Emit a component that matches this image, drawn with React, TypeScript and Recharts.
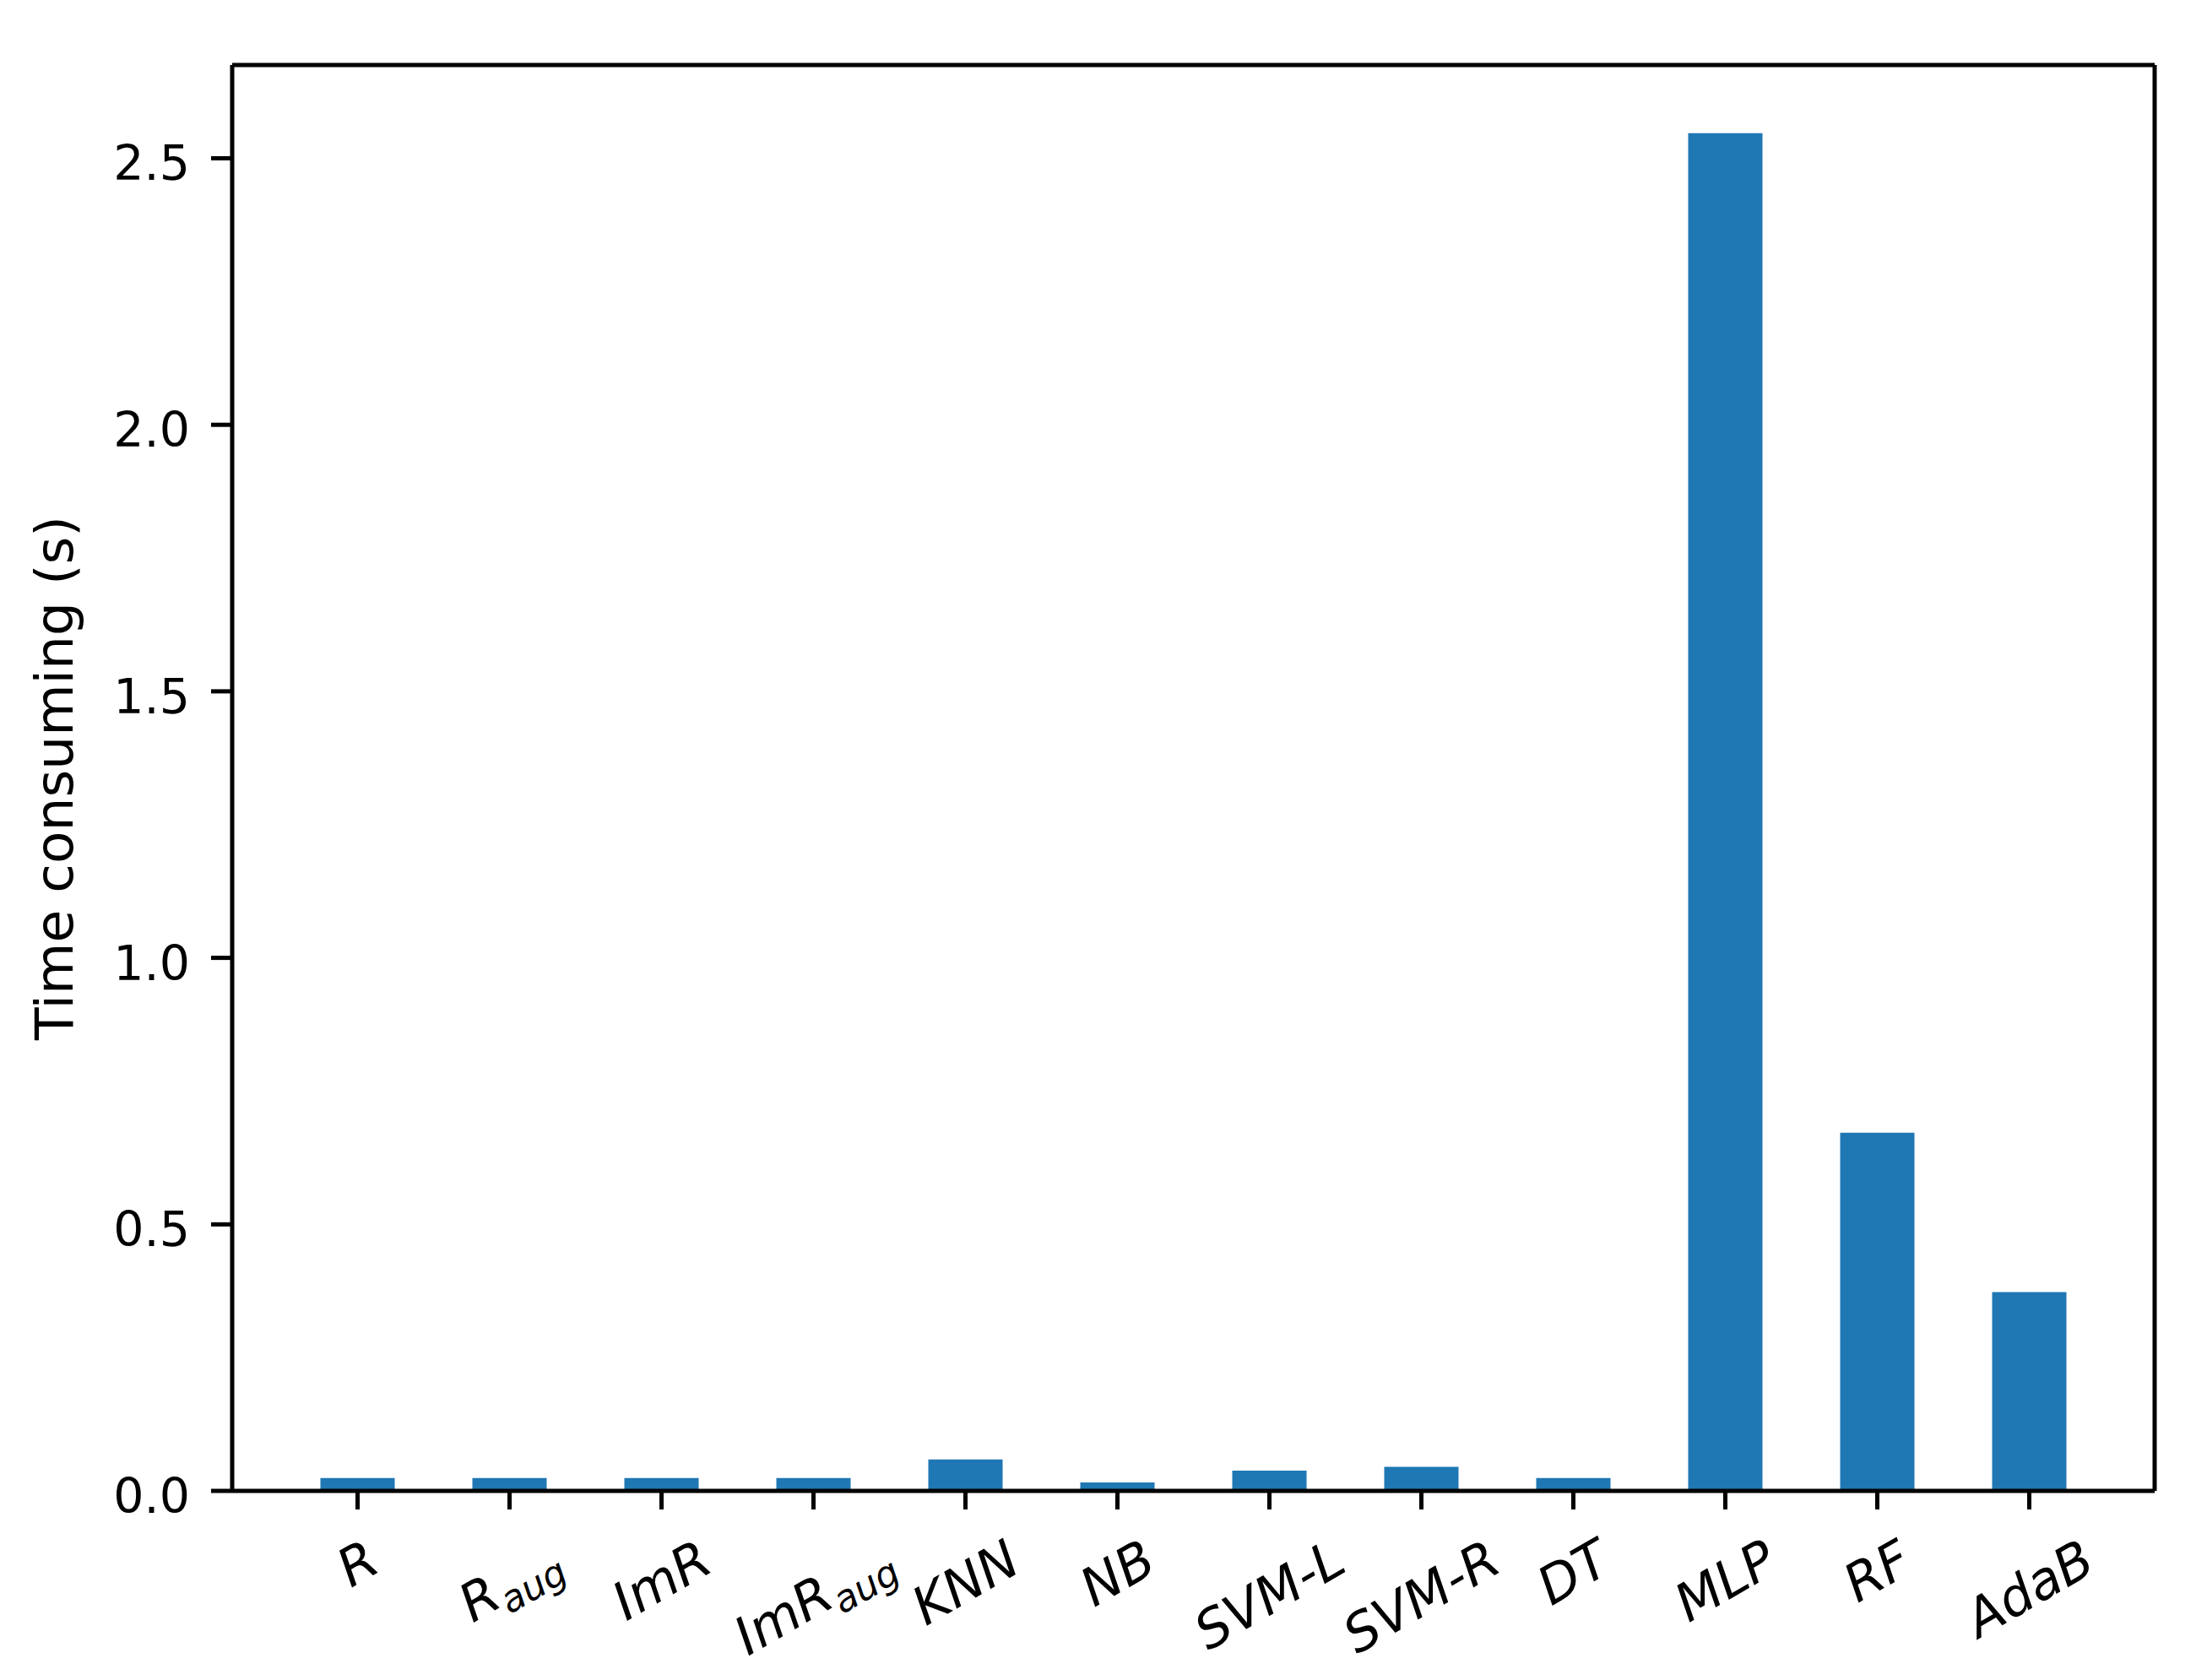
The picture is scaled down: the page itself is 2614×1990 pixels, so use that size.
import React from 'react';
import { BarChart, Bar, XAxis, YAxis, Label } from 'recharts';

// ---- data ----
const categories = ['R', 'R_aug', 'ImR', 'ImR_aug', 'KNN', 'NB', 'SVM-L', 'SVM-R', 'DT', 'MLP', 'RF', 'AdaB'];
const labelMain = ['R', 'R', 'ImR', 'ImR', 'KNN', 'NB', 'SVM-L', 'SVM-R', 'DT', 'MLP', 'RF', 'AdaB'];
const labelSub = ['', 'aug', '', 'aug', '', '', '', '', '', '', '', ''];
const timeValues = [0.024, 0.024, 0.024, 0.024, 0.059, 0.016, 0.038, 0.045, 0.024, 2.547, 0.672, 0.373];
const yTicks = [0, 0.5, 1.0, 1.5, 2.0, 2.5];
const yMax = 2.675;
const yLabel = 'Time consuming (s)';

const chartData = categories.map((name, i) => ({ name, time: timeValues[i] }));

// ---- style ----
const FONT = '"DejaVu Sans", sans-serif';
const FS = 57;
const LFS = 63;
const XFS = 62;
const SUBFS = 44;
const ANGLE = 30;
const AXIS_W = 5;
const BLUE = '#1f77b4';

let ctx: CanvasRenderingContext2D | null = null;
function measure(text: string, size: number): number {
  if (!ctx) ctx = document.createElement('canvas').getContext('2d');
  if (!ctx) return text.length * size * 0.6;
  ctx.font = `italic ${size}px "DejaVu Sans"`;
  return ctx.measureText(text).width;
}

function XTick(props: any) {
  const { x, y, payload } = props;
  const idx = categories.indexOf(payload.value);
  const main = labelMain[idx] ?? String(payload.value);
  const sub = labelSub[idx] ?? '';
  const w = measure(main, XFS) + (sub ? measure(sub, SUBFS) : 0);
  const h = 1.164 * XFS;
  const rad = (ANGLE * Math.PI) / 180;
  const top = y + 22;
  const cy = top + (w * Math.sin(rad) + h * Math.cos(rad)) / 2;
  const cx = x;
  return (
    <text
      x={cx}
      y={cy + 0.346 * XFS}
      textAnchor="middle"
      transform={`rotate(${-ANGLE}, ${cx}, ${cy})`}
      fontSize={XFS}
      fontStyle="italic"
      fontFamily={FONT}
      fill="#000"
    >
      {main}
      {sub ? (
        <tspan fontSize={SUBFS} dy={13}>
          {sub}
        </tspan>
      ) : null}
    </text>
  );
}

function YTick(props: any) {
  const { x, y, payload } = props;
  return (
    <text x={x} y={y + 26} textAnchor="end" fontSize={FS} fontFamily={FONT} fill="#000">
      {Number(payload.value).toFixed(1)}
    </text>
  );
}

function YLabelContent(props: any) {
  const vb = props.viewBox || { x: 0, y: 77, width: 275, height: 1689 };
  const cx = 64;
  const cy = vb.y + vb.height / 2;
  return (
    <text
      x={cx}
      y={cy + 0.346 * LFS}
      textAnchor="middle"
      transform={`rotate(-90, ${cx}, ${cy})`}
      fontSize={LFS}
      fontFamily={FONT}
      fill="#000"
    >
      {yLabel}
    </text>
  );
}

export default function App() {
  return (
    <div style={{ position: 'absolute', left: 0, top: 0, width: 2614, height: 1990, background: '#fff' }}>
      <BarChart
        width={2614}
        height={1990}
        data={chartData}
        margin={{ top: 76, right: 61, bottom: 0, left: 0 }}
      >
        <Bar dataKey="time" fill={BLUE} barSize={88} isAnimationActive={false} />
        <XAxis
          dataKey="name"
          interval={0}
          height={224}
          tickSize={22}
          tickMargin={0}
          padding={{ left: 58.5, right: 58.5 }}
          axisLine={{ stroke: '#000', strokeWidth: AXIS_W }}
          tickLine={{ stroke: '#000', strokeWidth: AXIS_W }}
          tick={<XTick />}
        />
        <XAxis
          xAxisId="top"
          dataKey="name"
          orientation="top"
          height={1}
          tick={false}
          tickLine={false}
          axisLine={{ stroke: '#000', strokeWidth: AXIS_W }}
        />
        <YAxis
          width={275}
          domain={[0, yMax]}
          ticks={yTicks}
          allowDataOverflow
          tickSize={25}
          tickMargin={25}
          axisLine={{ stroke: '#000', strokeWidth: AXIS_W }}
          tickLine={{ stroke: '#000', strokeWidth: AXIS_W }}
          tick={<YTick />}
        >
          <Label content={<YLabelContent />} />
        </YAxis>
        <YAxis
          yAxisId="right"
          orientation="right"
          width={1}
          domain={[0, yMax]}
          tick={false}
          tickLine={false}
          axisLine={{ stroke: '#000', strokeWidth: AXIS_W }}
        />
      </BarChart>
    </div>
  );
}
